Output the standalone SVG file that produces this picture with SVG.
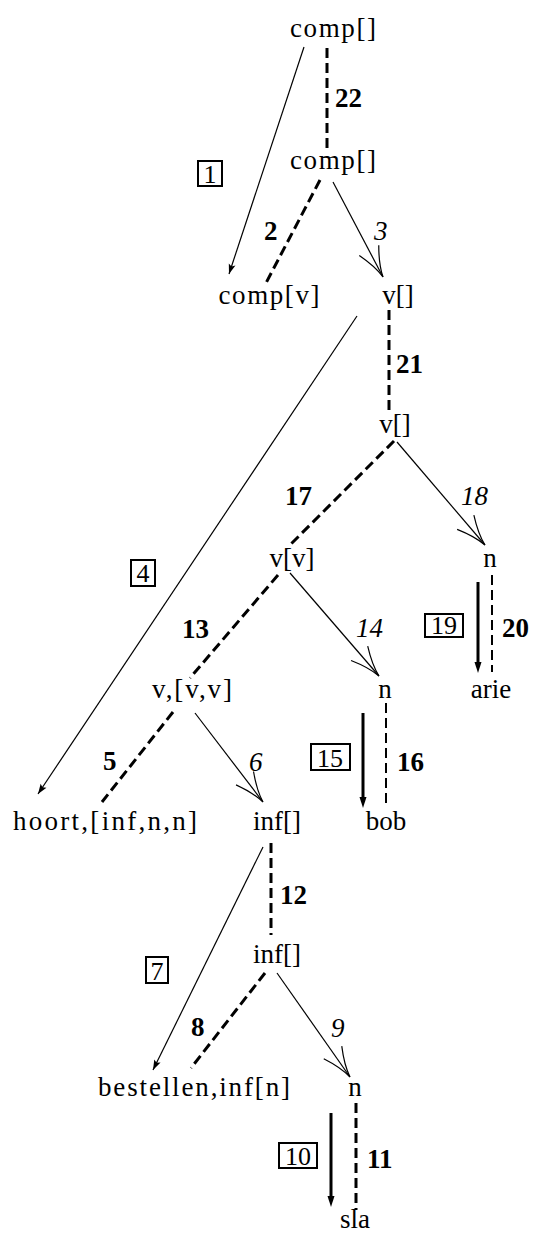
<svg xmlns="http://www.w3.org/2000/svg" width="538" height="1233" viewBox="0 0 538 1233">
<style>
.lbl{font-size:27px;text-anchor:middle;fill:#000}
.num{font-size:27px;fill:#000}
.b{font-weight:bold}
.i{font-style:italic}
.bx{font-size:26px;text-anchor:middle;fill:#000}
.box{fill:none;stroke:#000;stroke-width:2}
.thin{stroke:#000;stroke-width:1.2;fill:none}
.thick{stroke:#000;stroke-width:3;fill:none}
.dash{stroke:#000;stroke-width:3;stroke-dasharray:10 5;fill:none}
.dash2{stroke:#000;stroke-width:2;stroke-dasharray:10 5;fill:none}
</style>
<defs>
<marker id="curve" markerUnits="userSpaceOnUse" viewBox="-34 -16 36 32" refX="0" refY="0" markerWidth="36" markerHeight="32" orient="auto" overflow="visible">
<path d="M-30,-11 Q-13,-2 0,0 M-30,11 Q-13,2 0,0" fill="none" stroke="#000" stroke-width="1.2"/>
</marker>
<marker id="small" markerUnits="userSpaceOnUse" viewBox="-12 -5 14 10" refX="0" refY="0" markerWidth="14" markerHeight="10" orient="auto" overflow="visible">
<path d="M0,0 L-10,-3.5 L-8,0 L-10,3.5 Z" fill="#000"/>
</marker>
<marker id="fat" markerUnits="userSpaceOnUse" viewBox="-14 -6 16 12" refX="-8" refY="0" markerWidth="16" markerHeight="12" orient="auto" overflow="visible">
<path d="M0,0 L-11,-3.5 L-11,3.5 Z" fill="#000"/>
</marker>
</defs>

<g id="connectors">
<line class="thin" x1="304" y1="47" x2="229" y2="274" marker-end="url(#small)"/>
<line class="dash" x1="327" y1="48" x2="327" y2="148"/>
<line class="dash" x1="320" y1="180" x2="266" y2="283"/>
<line class="thin" x1="333" y1="182" x2="383" y2="277" marker-end="url(#curve)"/>
<line class="thin" x1="357" y1="316" x2="38" y2="794" marker-end="url(#small)"/>
<line class="dash" x1="389" y1="310" x2="389" y2="412"/>
<line class="dash" x1="394" y1="441" x2="290" y2="545"/>
<line class="thin" x1="397" y1="442" x2="485" y2="545" marker-end="url(#curve)"/>
<line class="thick" x1="478" y1="582" x2="478" y2="665" marker-end="url(#fat)"/>
<line class="dash2" x1="492" y1="575" x2="492" y2="672"/>
<line class="dash" x1="278" y1="575" x2="190" y2="678"/>
<line class="thin" x1="290" y1="573" x2="379" y2="676" marker-end="url(#curve)"/>
<line class="dash" x1="173" y1="712" x2="102" y2="802"/>
<line class="thin" x1="195" y1="713" x2="263" y2="802" marker-end="url(#curve)"/>
<line class="thick" x1="363" y1="713" x2="363" y2="800" marker-end="url(#fat)"/>
<line class="dash2" x1="386" y1="703" x2="386" y2="803"/>
<line class="dash" x1="271" y1="843" x2="271" y2="935"/>
<line class="thin" x1="263" y1="847" x2="153" y2="1070" marker-end="url(#small)"/>
<line class="dash" x1="265" y1="973" x2="191" y2="1068"/>
<line class="thin" x1="277" y1="973" x2="350" y2="1077" marker-end="url(#curve)"/>
<line class="thick" x1="331" y1="1113" x2="331" y2="1199" marker-end="url(#fat)"/>
<line class="dash" x1="356" y1="1103" x2="356" y2="1210"/>
</g>

<g id="edge-labels" font-family="Liberation Serif, serif">
<text class="num b" x="335" y="107">22</text>
<rect class="box" x="198" y="161" width="24" height="25"/>
<text class="bx" x="210" y="183">1</text>
<text class="num b" x="264" y="240">2</text>
<text class="num i" x="374" y="240">3</text>
<text class="num b" x="396" y="373">21</text>
<text class="num b" x="285" y="505">17</text>
<text class="num i" x="461" y="505">18</text>
<rect class="box" x="131" y="560" width="24" height="26"/>
<text class="bx" x="143" y="582">4</text>
<text class="num b" x="182" y="638">13</text>
<text class="num i" x="356" y="637">14</text>
<rect class="box" x="425" y="614" width="38" height="23"/>
<text class="bx" x="444" y="634">19</text>
<text class="num b" x="502" y="637">20</text>
<text class="num b" x="103" y="770">5</text>
<text class="num i" x="249" y="771">6</text>
<rect class="box" x="311" y="744" width="39" height="26"/>
<text class="bx" x="330" y="767">15</text>
<text class="num b" x="397" y="771">16</text>
<text class="num b" x="280" y="904">12</text>
<rect class="box" x="146" y="957" width="22" height="26"/>
<text class="bx" x="157" y="980">7</text>
<text class="num b" x="191" y="1036">8</text>
<text class="num i" x="331" y="1037">9</text>
<rect class="box" x="279" y="1143" width="38" height="25"/>
<text class="bx" x="298" y="1165">10</text>
<text class="num b" x="367" y="1168">11</text>
</g>

<g id="nodes" font-family="Liberation Serif, serif">
<g id="n-comp-top"><text class="lbl" x="333" y="37" textLength="86">comp[]</text></g>
<g id="n-comp-mid"><text class="lbl" x="333" y="169" textLength="86">comp[]</text></g>
<g id="n-compv"><text class="lbl" x="269" y="304" textLength="101">comp[v]</text></g>
<g id="n-v1"><text class="lbl" x="398" y="304">v[]</text></g>
<g id="n-v2"><text class="lbl" x="395" y="433">v[]</text></g>
<g id="n-vv"><text class="lbl" x="292" y="567">v[v]</text></g>
<g id="n-n1"><text class="lbl" x="490" y="567">n</text></g>
<g id="n-vvv"><text class="lbl" x="192" y="698" textLength="80">v,[v,v]</text></g>
<g id="n-n2"><text class="lbl" x="385" y="698">n</text></g>
<g id="n-arie"><text class="lbl" x="491" y="698">arie</text></g>
<g id="n-hoort"><text class="lbl" x="105" y="830" textLength="184">hoort,[inf,n,n]</text></g>
<g id="n-inf1"><text class="lbl" x="277" y="830">inf[]</text></g>
<g id="n-bob"><text class="lbl" x="386" y="830">bob</text></g>
<g id="n-inf2"><text class="lbl" x="277" y="963">inf[]</text></g>
<g id="n-bestellen"><text class="lbl" x="194" y="1096" textLength="192">bestellen,inf[n]</text></g>
<g id="n-n3"><text class="lbl" x="355" y="1096">n</text></g>
<g id="n-sla"><text class="lbl" x="355" y="1228">sla</text></g>
</g>
</svg>
